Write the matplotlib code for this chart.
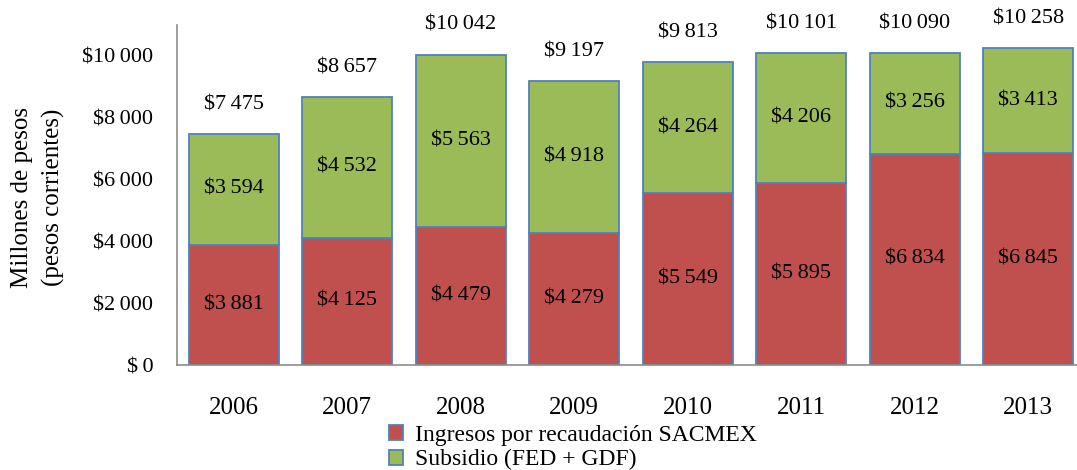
import numpy as np
import matplotlib
matplotlib.use("Agg")
import matplotlib.pyplot as plt
from matplotlib.ticker import FuncFormatter

years = ["2006", "2007", "2008", "2009", "2010", "2011", "2012", "2013"]
ingresos = [3881, 4125, 4479, 4279, 5549, 5895, 6834, 6845]
subsidio = [3594, 4532, 5563, 4918, 4264, 4206, 3256, 3413]
totales = [7475, 8657, 10042, 9197, 9813, 10101, 10090, 10258]

red = "#C0504D"
green = "#9BBB59"
edge = "#4F81BD"

plt.rcParams['font.family'] = ['Liberation Serif', 'DejaVu Serif']

def money(v):
    s = "{:,}".format(int(v)).replace(",", "\u2009")
    return "$" + s

fig = plt.figure(figsize=(10.77, 4.70), dpi=100)
ax = fig.add_axes([177/1077, 105/470, 908/1077, 340/470])

x = np.arange(len(years))
w = 0.79
ax.bar(x, ingresos, w, color=red, edgecolor=edge, linewidth=1.3,
       label="Ingresos por recaudación SACMEX")
ax.bar(x, subsidio, w, bottom=ingresos, color=green, edgecolor=edge, linewidth=1.3,
       label="Subsidio (FED + GDF)")

for i in range(len(years)):
    ax.text(x[i], ingresos[i] / 2, money(ingresos[i]), ha="center", va="center", fontsize=16)
    ax.text(x[i], ingresos[i] + subsidio[i] / 2, money(subsidio[i]), ha="center", va="center", fontsize=16)
    ax.annotate(money(totales[i]), (x[i], totales[i]), xytext=(0, 21), textcoords="offset points",
                ha="center", va="center", fontsize=16)

ax.set_xlim(-0.5, 7.5)
ax.set_ylim(0, 11000)
ax.set_yticks(np.arange(0, 10001, 2000))
ax.yaxis.set_major_formatter(FuncFormatter(lambda v, p: "$\u20090" if v == 0 else money(v)))
ax.set_xticks(x)
ax.set_xticklabels(years)
ax.tick_params(axis="y", length=0, labelsize=16, pad=17)
ax.tick_params(axis="x", length=0, labelsize=18, pad=23)
for s in ["top", "right"]:
    ax.spines[s].set_visible(False)
for s in ["left", "bottom"]:
    ax.spines[s].set_color("#8c8c8c")
    ax.spines[s].set_linewidth(1.2)

fig.text(22/1077, 273/470, "Millones de pesos", rotation=90, ha="center", va="center", fontsize=18)
fig.text(53/1077, 273/470, "(pesos corrientes)", rotation=90, ha="center", va="center", fontsize=18)

h, l = ax.get_legend_handles_labels()
fig.legend(h, l, loc="upper left", bbox_to_anchor=(377/1077, 1 - 413/470), frameon=False,
           fontsize=17, handlelength=0.6, handleheight=0.6, handletextpad=0.5,
           labelspacing=0.15, borderpad=0)

fig.savefig("out.png", dpi=100)
